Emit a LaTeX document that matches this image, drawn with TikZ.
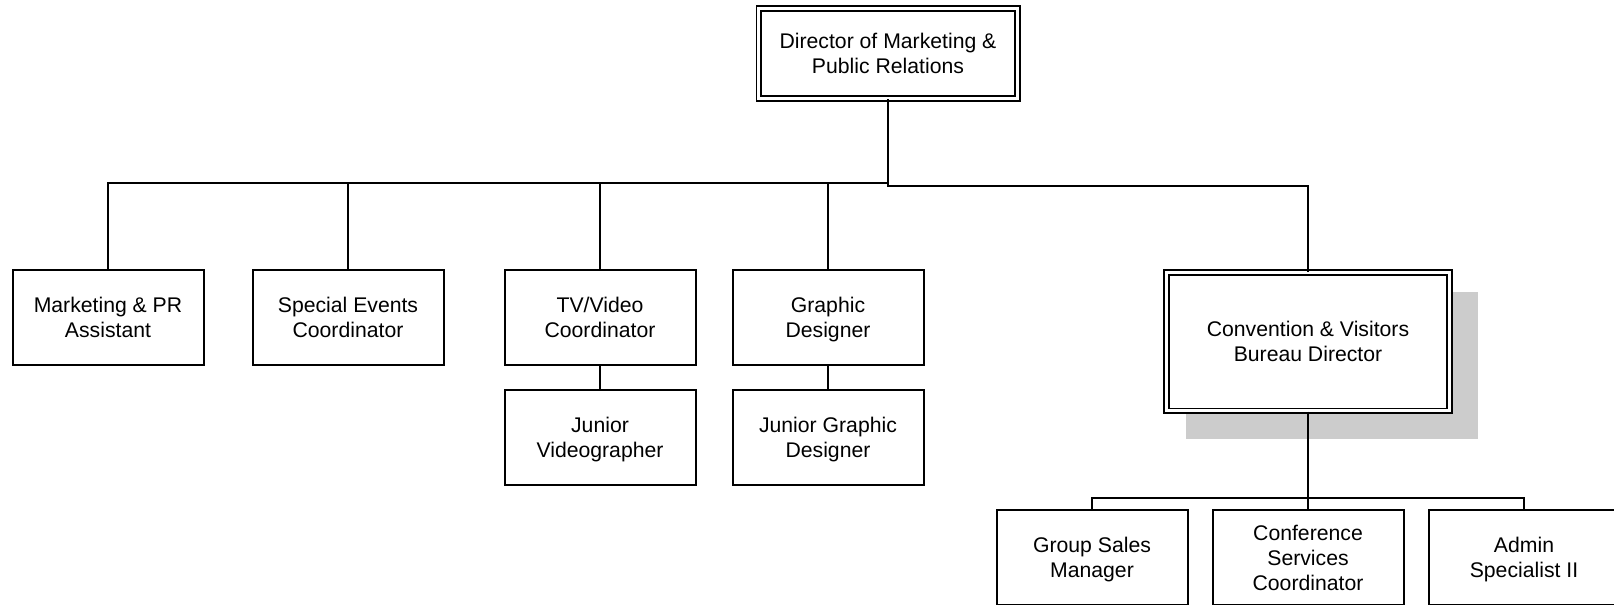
\documentclass[tikz,border=0pt]{standalone}
\usepackage{fontspec}
\setmainfont{Liberation Sans}
\usetikzlibrary{positioning,backgrounds}
\definecolor{shadowgray}{RGB}{204,204,204}
% same height and depth for every label
\newcommand{\lineup}{\rule{0pt}{10.7pt}}
\newcommand{\linedn}{\rule[-3pt]{0pt}{0pt}}

\begin{document}
\begin{tikzpicture}[x=0.5pt,y=-0.5pt,line width=1pt,node distance=11.8pt,
    font=\fontsize{10.6pt}{12.5pt}\selectfont,
    job node/.style={rectangle,draw,align=center,minimum width=95.5pt,minimum height=47.2pt,inner sep=2pt},
    head node/.style={rectangle,draw,double,line width=0.9pt,double distance=1.45pt,fill=white,align=center,inner sep=2pt}]

\useasboundingbox (0,0) rectangle (1614,605);

% top of the chart
\node[head node,minimum width=129.25pt,minimum height=45.1pt] (dir) at (888,53.4) {\lineup Director of Marketing \&\\Public Relations\linedn};

% first row
\node[job node] (mkt)   at (108,317.5)  {\lineup Marketing \& PR\\Assistant\linedn};
\node[job node] (spec)  at (348,317.5)  {\lineup Special Events\\Coordinator\linedn};
\node[job node] (tv)    at (600,317.5)  {\lineup TV/Video\\Coordinator\linedn};
\node[job node] (graph) at (828,317.5)  {\lineup Graphic\\Designer\linedn};
\node[job node] (jvid)   [below=of tv]    {\lineup Junior\\Videographer\linedn};
\node[job node] (jgraph) [below=of graph] {\lineup Junior Graphic\\Designer\linedn};

% bureau
\node[head node,minimum width=141.4pt,minimum height=69.1pt] (cvb) at (1308,341.65) {\lineup Convention \& Visitors\\Bureau Director\linedn};
\begin{scope}[on background layer]
\fill[shadowgray] ([shift={(20.5,20.5)}]cvb.north west) rectangle ([shift={(27.5,27.5)}]cvb.south east);
\end{scope}

\node[job node] (gsm) at (1092,557.5) {\lineup Group Sales\\Manager\linedn};
\node[job node] (csc) at (1308,557.5) {\lineup Conference\\Services\\Coordinator\linedn};
\node[job node] (adm) at (1524,557.5) {\lineup Admin\\Specialist II\linedn};

% connectors
\coordinate (barL) at (888,183.3);
\coordinate (barR) at (888,185.5);
\coordinate (barB) at (1308,497.7);

\draw (dir) -- (barR) -| (cvb);
\foreach \n in {mkt,spec,tv,graph}
    \draw (barL) -| (\n);
\draw (tv) -- (jvid);
\draw (graph) -- (jgraph);
\draw (cvb) -- (barB);
\foreach \n in {gsm,csc,adm}
    \draw (barB) -| (\n);

\end{tikzpicture}
\end{document}
